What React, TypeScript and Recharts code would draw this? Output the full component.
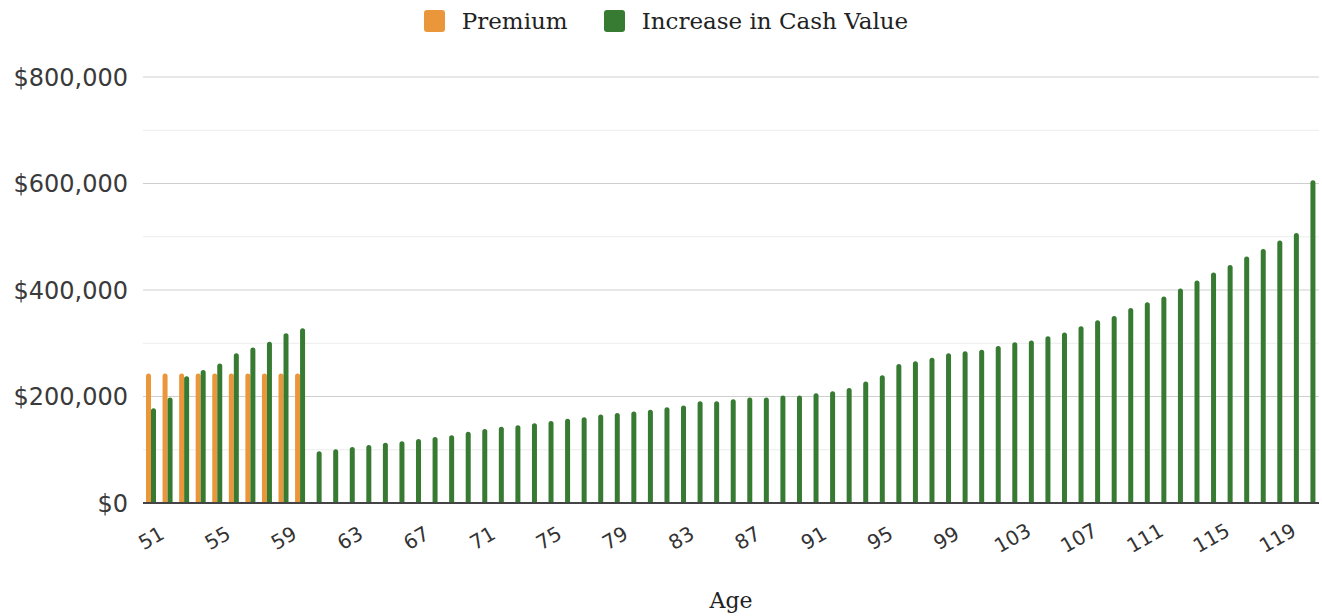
import { BarChart, Bar, XAxis, YAxis, CartesianGrid, Legend } from "recharts";

const ages = [
  51, 52, 53, 54, 55, 56, 57, 58, 59, 60,
  61, 62, 63, 64, 65, 66, 67, 68, 69, 70,
  71, 72, 73, 74, 75, 76, 77, 78, 79, 80,
  81, 82, 83, 84, 85, 86, 87, 88, 89, 90,
  91, 92, 93, 94, 95, 96, 97, 98, 99, 100,
  101, 102, 103, 104, 105, 106, 107, 108, 109, 110,
  111, 112, 113, 114, 115, 116, 117, 118, 119, 120,
  121,
];

// premium only paid for the first ten years
const premium = [243000, 243000, 243000, 243000, 243000, 243000, 243000, 243000, 243000, 243000];

const cashIncrease = [
  178000, 198000, 238000, 250000, 262000, 281000, 292000, 303000, 319000, 328000,
  97000, 101000, 105000, 109000, 113000, 116000, 120000, 124000, 127000, 134000,
  139000, 143000, 146000, 150000, 154000, 158000, 161000, 166000, 169000, 172000,
  175000, 180000, 183000, 191000, 191000, 195000, 198000, 198000, 202000, 202000,
  206000, 210000, 216000, 228000, 240000, 261000, 266000, 273000, 281000, 285000,
  288000, 295000, 302000, 305000, 313000, 320000, 332000, 343000, 351000, 366000,
  377000, 388000, 403000, 418000, 433000, 447000, 463000, 477000, 493000, 507000,
  606000,
];

const yTicks = [0, 200000, 400000, 600000, 800000];
const minorTicks = [100000, 300000, 500000, 700000];

const data = ages.map((age, i) => ({
  age,
  premium: i < premium.length ? premium[i] : null,
  cash: cashIncrease[i],
}));

const ORANGE = "#e9973a";
const GREEN = "#377a32";
const labelFont = "'DejaVu Sans', sans-serif";
const titleFont = "'DejaVu Serif', serif";

const fmtMoney = (v: number) => "$" + v.toLocaleString("en-US");

function AgeTick(props: any) {
  const { x, y, payload } = props;
  return (
    <g transform={`translate(${x},${y + 27}) rotate(-30)`}>
      <text textAnchor="middle" dy="0.35em" fontSize={20} fill="#333" fontFamily={labelFont}>
        {payload.value}
      </text>
    </g>
  );
}

function LegendBox() {
  const items = [
    { name: "Premium", color: ORANGE },
    { name: "Increase in Cash Value", color: GREEN },
  ];
  return (
    <div style={{ display: "flex", justifyContent: "center", paddingLeft: 10, gap: 36 }}>
      {items.map((it) => (
        <div key={it.name} style={{ display: "flex", alignItems: "center" }}>
          <span
            style={{
              display: "inline-block",
              width: 21,
              height: 22,
              borderRadius: 3,
              background: it.color,
              marginRight: 17,
            }}
          />
          <span style={{ fontFamily: titleFont, fontSize: 23, color: "#222" }}>{it.name}</span>
        </div>
      ))}
    </div>
  );
}

export default function App() {
  return (
    <div style={{ position: "absolute", left: 0, top: 0, width: 1322, height: 616, background: "#fff" }}>
      <BarChart
        width={1322}
        height={616}
        data={data}
        margin={{ top: 77, right: 3, bottom: 0, left: 0 }}
        barSize={5}
        barGap={0}
      >
        <CartesianGrid vertical={false} horizontalValues={minorTicks} stroke="#ececec" />
        <CartesianGrid vertical={false} horizontalValues={yTicks} stroke="#cfcfcf" />
        <Legend
          verticalAlign="middle"
          align="center"
          layout="horizontal"
          wrapperStyle={{ top: 8, left: 0, width: 1322 }}
          content={() => <LegendBox />}
        />
        <XAxis
          dataKey="age"
          interval={3}
          height={113}
          tickLine={false}
          axisLine={{ stroke: "#444", strokeWidth: 2 }}
          tick={<AgeTick />}
          label={{ value: "Age", position: "insideBottom", offset: 8, fontSize: 22, fill: "#222", fontFamily: titleFont }}
        />
        <YAxis
          width={143}
          domain={[0, 800000]}
          ticks={yTicks}
          tickFormatter={fmtMoney}
          axisLine={false}
          tickLine={false}
          tickMargin={9}
          tick={{ fontSize: 24, fill: "#3a3a3a", fontFamily: labelFont }}
        />
        <Bar dataKey="premium" name="Premium" fill={ORANGE} radius={[3, 3, 0, 0]} isAnimationActive={false} />
        <Bar dataKey="cash" name="Increase in Cash Value" fill={GREEN} radius={[3, 3, 0, 0]} isAnimationActive={false} />
      </BarChart>
    </div>
  );
}
